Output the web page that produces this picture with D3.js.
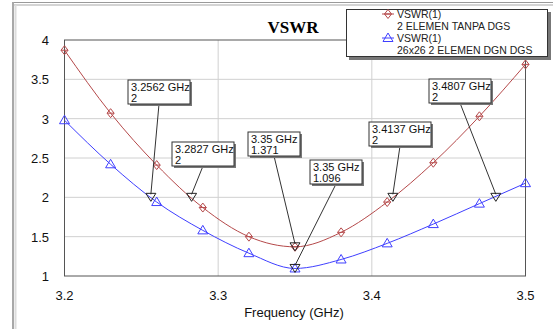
<!DOCTYPE html>
<html>
<head>
<meta charset="utf-8">
<script src="https://cdn.jsdelivr.net/npm/d3@7"></script>
<style>
  body { margin: 0; background: #fff; }
  svg { display: block; font-family: Arial, "Liberation Sans", sans-serif; }
</style>
</head>
<body>
<div id="chart"></div>
<script>
// frequencies where the solver put a marker (GHz)
const freqs = [3.2, 3.23, 3.26, 3.29, 3.32, 3.35, 3.38, 3.41, 3.44, 3.47, 3.5];
const vswrTanpa = [3.87, 3.07, 2.41, 1.87, 1.50, 1.371, 1.555, 1.94, 2.44, 3.03, 3.69];
const vswrDgs = [2.98, 2.42, 1.94, 1.58, 1.29, 1.096, 1.21, 1.415, 1.66, 1.92, 2.18];
const xTicks = [3.2, 3.3, 3.4, 3.5];
const yTicks = [1, 1.5, 2, 2.5, 3, 3.5, 4];
const legendNames = ["2 ELEMEN TANPA DGS", "26x26 2 ELEMEN DGN DGS"];

// marker readouts: freq, value, label box (left, top) in px
const markers = [
  { f: 3.2562, v: 2, box: [128, 80] },
  { f: 3.2827, v: 2, box: [172, 142] },
  { f: 3.35, v: 1.371, box: [248, 132] },
  { f: 3.35, v: 1.096, box: [310, 160] },
  { f: 3.4137, v: 2, box: [369, 122] },
  { f: 3.4807, v: 2, box: [429, 79] }
];

const width = 553, height = 329;
const svg = d3.select("#chart").append("svg")
  .attr("width", width)
  .attr("height", height);

// outer panel frame
svg.append("line").attr("x1", 12).attr("x2", width).attr("y1", 2.5).attr("y2", 2.5)
  .attr("stroke", "#9a9a9a");
svg.append("line").attr("x1", 12).attr("x2", width).attr("y1", 5).attr("y2", 5)
  .attr("stroke", "#d4d4d4").attr("stroke-width", 2);
svg.append("line").attr("x1", 13).attr("x2", 13).attr("y1", 2).attr("y2", height)
  .attr("stroke", "#a8a8a8").attr("stroke-width", 2);
svg.append("line").attr("x1", 15.5).attr("x2", 15.5).attr("y1", 5).attr("y2", height)
  .attr("stroke", "#dcdcdc").attr("stroke-width", 2);

const x = d3.scaleLinear().domain([3.2, 3.5]).range([64.5, 525.5]);
const y = d3.scaleLinear().domain([1, 4]).range([276, 40]);

// grid
svg.append("g").selectAll("line").data(xTicks.slice(1, -1)).enter().append("line")
  .attr("x1", d => x(d)).attr("x2", d => x(d))
  .attr("y1", y(4)).attr("y2", y(1))
  .attr("stroke", "#d0d0d0");
svg.append("g").selectAll("line").data(yTicks.slice(1, -1)).enter().append("line")
  .attr("x1", x(3.2)).attr("x2", x(3.5))
  .attr("y1", d => y(d)).attr("y2", d => y(d))
  .attr("stroke", "#d0d0d0");

// plot frame
svg.append("rect")
  .attr("x", x(3.2)).attr("y", y(4))
  .attr("width", x(3.5) - x(3.2)).attr("height", y(1) - y(4))
  .attr("fill", "none").attr("stroke", "#555");

// tick labels
svg.append("g").selectAll("text").data(yTicks).enter().append("text")
  .attr("x", 49).attr("y", d => y(d) + 5)
  .attr("text-anchor", "end").attr("font-size", 13).attr("fill", "#111")
  .text(d => d);
svg.append("g").selectAll("text").data(xTicks).enter().append("text")
  .attr("x", d => x(d)).attr("y", 300)
  .attr("text-anchor", "middle").attr("font-size", 13).attr("fill", "#111")
  .text(d => d.toFixed(1));
svg.append("text").attr("x", 294).attr("y", 317)
  .attr("text-anchor", "middle").attr("font-size", 13).attr("fill", "#111")
  .text("Frequency (GHz)");

svg.append("text").attr("x", 293).attr("y", 33)
  .attr("text-anchor", "middle")
  .attr("font-family", "'Liberation Serif', 'DejaVu Serif', serif")
  .attr("font-weight", "bold").attr("font-size", 17)
  .text("VSWR");

const line = d3.line().curve(d3.curveMonotoneX)
  .x(d => x(d[0])).y(d => y(d[1]));

const red = "#b5494a", blue = "#3f3fff";

function diamond(g, cx, cy, col) {
  g.append("path")
    .attr("d", `M${cx},${cy - 4.5}L${cx + 3.5},${cy}L${cx},${cy + 4.5}L${cx - 3.5},${cy}Z`)
    .attr("fill", "none").attr("stroke", col);
  g.append("line").attr("x1", cx - 3.5).attr("x2", cx + 3.5).attr("y1", cy).attr("y2", cy)
    .attr("stroke", col);
}
function triUp(g, cx, cy, col) {
  g.append("path")
    .attr("d", `M${cx},${cy - 5}L${cx + 5},${cy + 3.5}L${cx - 5},${cy + 3.5}Z`)
    .attr("fill", "none").attr("stroke", col);
}

const seriesList = [
  { vals: vswrTanpa, col: red, mark: diamond },
  { vals: vswrDgs, col: blue, mark: triUp }
];
seriesList.forEach(s => {
  const pts = freqs.map((f, i) => [f, s.vals[i]]);
  svg.append("path").datum(pts).attr("d", line)
    .attr("fill", "none").attr("stroke", s.col).attr("stroke-width", 1);
  const g = svg.append("g");
  pts.forEach(p => s.mark(g, x(p[0]), y(p[1]), s.col));
});

// marker readouts
markers.forEach(m => {
  const mx = x(m.f), my = y(m.v);
  const bw = m.f.toString().length > 4 ? 62 : 52, bh = 24;
  const [bx, by] = m.box;
  svg.append("line")
    .attr("x1", bx + bw / 2).attr("y1", by + bh)
    .attr("x2", mx).attr("y2", my - 3)
    .attr("stroke", "#333");
  svg.append("path")
    .attr("d", `M${mx - 5},${my - 4}L${mx + 5},${my - 4}L${mx},${my + 4}Z`)
    .attr("fill", "none").attr("stroke", "#222");
  svg.append("rect").attr("x", bx + 2).attr("y", by + 2)
    .attr("width", bw).attr("height", bh).attr("fill", "#777");
  svg.append("rect").attr("x", bx).attr("y", by)
    .attr("width", bw).attr("height", bh)
    .attr("fill", "#fff").attr("stroke", "#333");
  svg.append("text").attr("x", bx + 3).attr("y", by + 10.5)
    .attr("font-size", 11).attr("fill", "#111")
    .text(`${m.f} GHz`);
  svg.append("text").attr("x", bx + 3).attr("y", by + 21.5)
    .attr("font-size", 11).attr("fill", "#111")
    .text(m.v);
});

// legend
const lg = svg.append("g");
lg.append("rect").attr("x", 349).attr("y", 12).attr("width", 202).attr("height", 48).attr("fill", "#777");
lg.append("rect").attr("x", 346.5).attr("y", 9.5).attr("width", 201).attr("height", 47)
  .attr("fill", "#fff").attr("stroke", "#333");
seriesList.forEach((s, i) => {
  const yy = 14 + i * 24;
  lg.append("line").attr("x1", 382).attr("x2", 394).attr("y1", yy).attr("y2", yy)
    .attr("stroke", s.col);
  s.mark(lg, 388, yy, s.col);
  lg.append("text").attr("x", 397).attr("y", yy + 4)
    .attr("font-size", 10.5).attr("fill", "#222").text("VSWR(1)");
  lg.append("text").attr("x", 397).attr("y", yy + 16)
    .attr("font-size", 10.5).attr("fill", "#222").text(legendNames[i]);
});
</script>
</body>
</html>
